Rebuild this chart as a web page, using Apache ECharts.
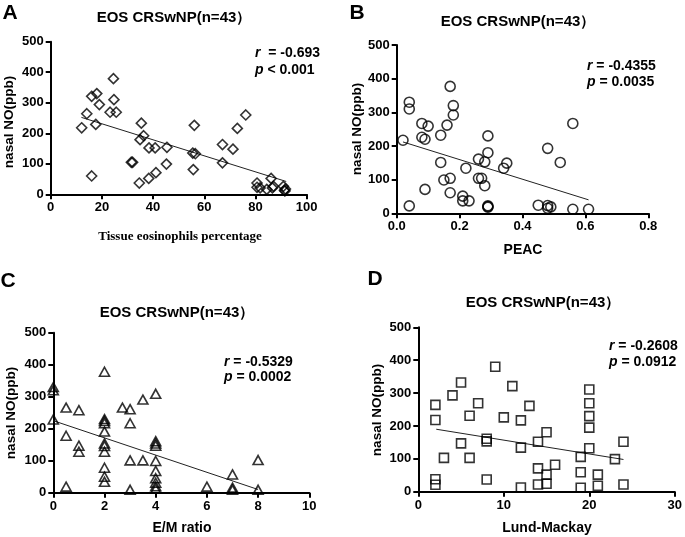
<!DOCTYPE html>
<html>
<head>
<meta charset="utf-8">
<script src="https://cdn.jsdelivr.net/npm/echarts@6/dist/echarts.min.js"></script>
<style>
html,body{margin:0;padding:0;background:#fff;}
#c{width:685px;height:537px;}
</style>
</head>
<body>
<div id="c"></div>
<script>
// ---- Panel A: Tissue eosinophils percentage vs nasal NO
var xA = [12.1,14.1,16.0,18.0,19.0,17.6,16.0,23.2,24.5,24.7,25.6,35.4,36.3,34.9,31.5,32.0,34.6,38.3,38.4,40.8,41.1,45.4,45.2,56.1,55.5,56.5,55.7,67.1,67.1,71.2,72.9,76.2,80.6,80.6,81.8,84.4,86.1,86.6,87.0,90.9,91.3,91.5,91.7];
var yA = [218,264,321,330,294,229,60,269,379,310,269,233,192,179,105,105,37,52,152,152,71,154,99,226,135,133,81,163,103,148,216,260,37,23,21,16,52,21,26,26,13,11,17];
var fitAx = [12, 92];
var fitAy = [252, 42];
// ---- Panel B: PEAC
var xB = [0.02,0.04,0.04,0.04,0.08,0.08,0.09,0.10,0.09,0.14,0.14,0.15,0.16,0.17,0.17,0.17,0.18,0.18,0.21,0.21,0.22,0.23,0.26,0.26,0.27,0.28,0.28,0.29,0.29,0.29,0.29,0.29,0.34,0.35,0.45,0.48,0.48,0.48,0.49,0.52,0.56,0.56,0.61];
var yB = [217,330,310,22,267,226,220,259,71,232,151,99,262,104,61,377,320,292,51,37,134,37,161,104,104,153,82,230,180,22,18,20,134,149,24,193,23,15,19,151,267,12,12];
var fitBx = [0.02, 0.61];
var fitBy = [212, 40];
// ---- Panel C: E/M ratio
var xC = [0,0,0,0.5,0.5,0.5,1,1,1,2,2,2,2,2,2,2,2,2,2,2,2.7,3,3,3,3,3.5,3.5,4,4,4,4,4,4,4,4,4,4,6,7,7,7,8,8];
var yC = [330,320,229,266,178,19,258,147,128,378,230,224,217,191,154,146,128,78,50,34,266,261,217,101,9,291,101,309,161,154,147,99,68,45,31,20,12,19,57,16,9,102,9];
var fitCx = [0, 8];
var fitCy = [225, 10];
// ---- Panel D: Lund-Mackay
var xD = [2,2,2,2,3,4,5,5,6,6,7,8,8,8,9,10,11,12,12,12,13,14,14,14,15,15,15,16,19,19,19,20,20,20,20,20,21,21,23,24,24];
var yD = [264,218,38,21,103,293,332,147,231,103,269,161,153,37,380,226,321,217,134,13,261,152,71,22,181,52,24,82,106,59,12,311,269,230,195,132,52,18,99,152,22];
var fitDx = [2.1, 24];
var fitDy = [190, 98];
// ---- texts
var panelLetters = ['A','B','C','D'];
var panelTitle = 'EOS CRSwNP(n=43）';
var yName = 'nasal NO(ppb)';
var xNames = ['Tissue eosinophils percentage','PEAC','E/M ratio','Lund-Mackay'];
var rTexts = ['{i|r}  = -0.693','{i|r} = -0.4355','{i|r} = -0.5329','{i|r} = -0.2608'];
var pTexts = ['{i|p} < 0.001','{i|p} = 0.0035','{i|p} = 0.0002','{i|p} = 0.0912'];
var yTicks = {min:0, max:500, interval:100};
var xTicks = [{min:0,max:100,interval:20},{min:0,max:0.8,interval:0.2},{min:0,max:10,interval:2},{min:0,max:30,interval:10}];

function pairs(xs, ys){ return xs.map(function(x,i){ return [x, ys[i]]; }); }

var FONT = 'Liberation Sans, Arial, sans-serif';
var grids = [
  {left:50.7, top:41.7, width:256, height:152.6},
  {left:396.7, top:45, width:251.6, height:168.3},
  {left:53.3, top:332.7, width:256, height:160},
  {left:418.3, top:327.3, width:258.4, height:164.4}
];
var symbols = ['diamond','circle','triangle','rect'];
var symSizes = [[10,10],[10,10],[10,9],[9,9]];
var scat = [pairs(xA,yA), pairs(xB,yB), pairs(xC,yC), pairs(xD,yD)];
var fits = [pairs(fitAx,fitAy), pairs(fitBx,fitBy), pairs(fitCx,fitCy), pairs(fitDx,fitDy)];

function axisCommon(){
  return {
    axisLine:{show:true, onZero:false, lineStyle:{color:'#000', width:2}},
    axisTick:{show:true, length:5, lineStyle:{color:'#000', width:2}},
    splitLine:{show:false},
    axisLabel:{color:'#000', fontWeight:'bold', fontSize:13, fontFamily:FONT, margin:7}
  };
}

var xAxes = [], yAxes = [], series = [];
for (var k=0;k<4;k++){
  var xa = axisCommon();
  xa.type='value'; xa.gridIndex=k; xa.min=xTicks[k].min; xa.max=xTicks[k].max; xa.interval=xTicks[k].interval;
  if (k===1) xa.axisLabel.formatter = function(v){ return v.toFixed(1); };
  xAxes.push(xa);
  var ya = axisCommon();
  ya.type='value'; ya.gridIndex=k; ya.min=yTicks.min; ya.max=yTicks.max; ya.interval=yTicks.interval;
  yAxes.push(ya);
  series.push({
    type:'scatter', xAxisIndex:k, yAxisIndex:k, data:scat[k],
    symbol:symbols[k], symbolSize:symSizes[k],
    itemStyle:{color:'rgba(255,255,255,0)', borderColor:'#000', borderWidth:1.6},
    emphasis:{disabled:true}, silent:true, z:3
  });
  series.push({
    type:'line', xAxisIndex:k, yAxisIndex:k, data:fits[k], symbol:'none',
    lineStyle:{color:'#222', width:1}, silent:true, z:2
  });
}

var letterPos = [[10,13],[357,13],[8,281],[375,279]];
var titlePos = [[174,18],[518,22],[177,313],[543,303]];
var yNamePos = [[9,122],[357,129],[11,413],[377,410]];
var xNamePos = [[180,237],[523,250],[182,528],[547,528]];
var annPos = [[255,53,70],[587,66,82],[224,362,377],[609,346,362]];

var graphics = [];
for (var k=0;k<4;k++){
  graphics.push({type:'text', x:letterPos[k][0], y:letterPos[k][1], style:{text:panelLetters[k], font:'bold 21px '+FONT, fill:'#000', align:'center', verticalAlign:'middle'}});
  graphics.push({type:'text', x:titlePos[k][0], y:titlePos[k][1], style:{text:panelTitle, font:'bold 15px '+FONT, fill:'#000', align:'center', verticalAlign:'middle'}});
  graphics.push({type:'text', x:yNamePos[k][0], y:yNamePos[k][1], rotation:Math.PI/2, style:{text:yName, font:'bold 13.5px '+FONT, fill:'#000', align:'center', verticalAlign:'middle'}});
  var xf = k===0 ? 'bold 13px Liberation Serif, Times New Roman, serif' : 'bold 14px '+FONT;
  graphics.push({type:'text', x:xNamePos[k][0], y:xNamePos[k][1], style:{text:xNames[k], font:xf, fill:'#000', align:'center', verticalAlign:'middle'}});
  var rich = {i:{fontStyle:'italic', fontWeight:'bold', fontSize:14, fontFamily:FONT, fill:'#000'}};
  graphics.push({type:'text', x:annPos[k][0], y:annPos[k][1], style:{text:rTexts[k], font:'bold 14px '+FONT, fill:'#000', align:'left', verticalAlign:'middle', rich:rich}});
  graphics.push({type:'text', x:annPos[k][0], y:annPos[k][2], style:{text:pTexts[k], font:'bold 14px '+FONT, fill:'#000', align:'left', verticalAlign:'middle', rich:rich}});
}

var chart = echarts.init(document.getElementById('c'), null, {renderer:'canvas'});
chart.setOption({
  backgroundColor:'#fff',
  animation:false,
  grid:grids,
  xAxis:xAxes,
  yAxis:yAxes,
  series:series,
  graphic:graphics
});
</script>
</body>
</html>
